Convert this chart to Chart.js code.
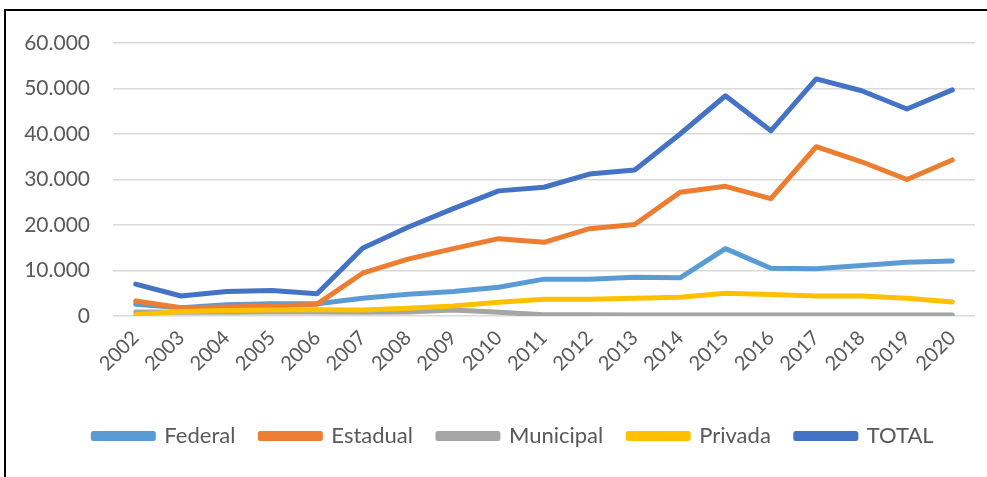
<!DOCTYPE html>
<html>
<head>
<meta charset="utf-8">
<script src="https://cdn.jsdelivr.net/npm/chart.js@4"></script>
<style>
    body { margin: 0; background: #fff; }
    #frame {
        position: absolute; left: 4px; top: 9px; width: 1000px; height: 480px;
        border-top: 2px solid #000; border-left: 2px solid #000; background: #fff;
    }
    #wrap { position: absolute; left: 0; top: 0; width: 987px; height: 477px; }
</style>
</head>
<body>
<div id="frame"></div>
<div id="wrap"><canvas id="grafico"></canvas></div>
<script>
// dados (matrículas por dependência administrativa)
const anos = ['2002','2003','2004','2005','2006','2007','2008','2009','2010','2011','2012','2013','2014','2015','2016','2017','2018','2019','2020'];
const federal   = [2600, 1800, 2500, 2700, 2700, 3900, 4800, 5400, 6300, 8100, 8100, 8500, 8400, 14800, 10500, 10400, 11100, 11800, 12100];
const estadual  = [3300, 1800, 2000, 2200, 2600, 9400, 12500, 14800, 17000, 16200, 19200, 20100, 27200, 28500, 25800, 37200, 33900, 30000, 34300];
const municipal = [900, 800, 800, 900, 900, 800, 900, 1300, 800, 300, 300, 200, 200, 200, 200, 200, 200, 200, 200];
const privada   = [300, 1000, 1200, 1300, 1400, 1300, 1700, 2200, 3000, 3700, 3700, 3900, 4100, 5000, 4700, 4400, 4400, 3900, 3100];
const total     = [7000, 4400, 5400, 5600, 4900, 14900, 19500, 23600, 27500, 28300, 31200, 32100, 40000, 48400, 40700, 52100, 49500, 45500, 49700];
const yTicks = [0, 10000, 20000, 30000, 40000, 50000, 60000];

const fonte = 'Lato, "Open Sans", sans-serif';
const cinzaTexto = '#595959';

function formatarMilhar(v) {
    return String(v).replace(/\B(?=(\d{3})+(?!\d))/g, '.');
}

function serie(label, data, cor, ordem) {
    return {
        label: label,
        data: data,
        borderColor: cor,
        backgroundColor: cor,
        borderWidth: 5,
        tension: 0,
        pointRadius: 0,
        borderCapStyle: 'round',
        borderJoinStyle: 'round',
        order: ordem
    };
}

// empurra a legenda um pouco para a direita, como no original
const deslocaLegenda = {
    id: 'deslocaLegenda',
    afterLayout(chart) {
        chart.legend.left += 26;
        chart.legend.right += 26;
    }
};

new Chart(document.getElementById('grafico'), {
    type: 'line',
    data: {
        labels: anos,
        datasets: [
            serie('Federal', federal, '#5B9BD5', 5),
            serie('Estadual', estadual, '#ED7D31', 4),
            serie('Municipal', municipal, '#A5A5A5', 3),
            serie('Privada', privada, '#FFC000', 2),
            serie('TOTAL', total, '#4472C4', 1)
        ]
    },
    plugins: [deslocaLegenda],
    options: {
        responsive: true,
        maintainAspectRatio: false,
        animation: false,
        layout: { padding: { left: 0, right: 12, top: 43, bottom: 20 } },
        plugins: {
            tooltip: { enabled: false },
            legend: {
                position: 'bottom',
                labels: {
                    boxWidth: 60,
                    boxHeight: 5,
                    padding: 25,
                    color: cinzaTexto,
                    font: { family: fonte, size: 22 },
                    sort: (a, b) => a.datasetIndex - b.datasetIndex
                }
            }
        },
        scales: {
            x: {
                offset: true,
                grid: { display: false },
                border: { display: false },
                ticks: {
                    color: cinzaTexto,
                    font: { family: fonte, size: 20 },
                    minRotation: 45,
                    maxRotation: 45,
                    padding: 2
                },
                afterFit: (scale) => { scale.height = 84; }
            },
            y: {
                min: 0,
                max: 60000,
                afterBuildTicks: (scale) => { scale.ticks = yTicks.map(v => ({ value: v })); },
                grid: { color: '#d9d9d9', lineWidth: 1.5, drawTicks: false },
                border: { display: false },
                ticks: {
                    color: cinzaTexto,
                    font: { family: fonte, size: 21 },
                    padding: 23,
                    callback: (v) => formatarMilhar(v)
                },
                afterFit: (scale) => { scale.width = 113; }
            }
        }
    }
});
</script>
</body>
</html>
